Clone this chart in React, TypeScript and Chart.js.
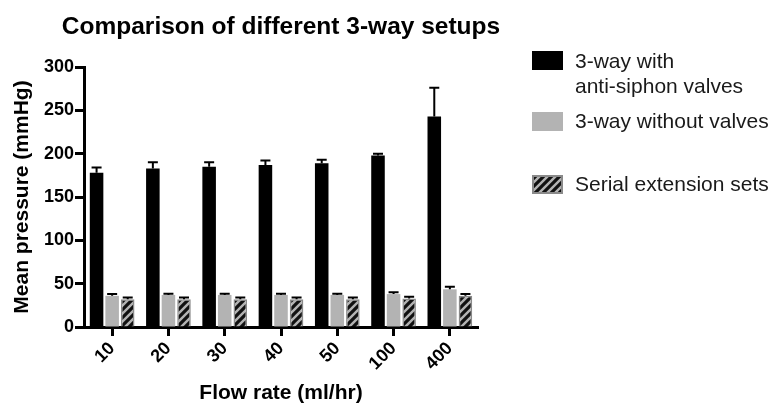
import React, { useEffect, useRef } from 'react';
import { Chart, registerables } from 'chart.js';

Chart.register(...registerables);

const chartTitle = 'Comparison of different 3-way setups';
const xTitle = 'Flow rate (ml/hr)';
const yTitle = 'Mean pressure (mmHg)';
const categories = ['10', '20', '30', '40', '50', '100', '400'];
const withValvesMean = [178, 183, 185, 187, 189, 198, 243];
const withValvesErr = [6, 7, 5, 5, 4, 2, 33];
const withoutValvesMean = [36, 37, 37, 37, 37, 38, 43.5];
const withoutValvesErr = [2, 1.5, 1.5, 1.5, 1.5, 2, 3];
const serialMean = [32, 32, 32, 32, 32, 33, 36];
const serialErr = [2, 2, 2, 2, 2, 2, 2];
const legendLabels = [['3-way with', 'anti-siphon valves'], ['3-way without valves'], ['Serial extension sets']];
const yMin = 0;
const yMax = 300;
const yStep = 50;

const FONT = '"Liberation Sans", Arial, Helvetica, sans-serif';

function makeHatch(): CanvasPattern | string {
  const c = document.createElement('canvas');
  c.width = 8;
  c.height = 8;
  const g = c.getContext('2d');
  if (!g) return '#b0b0b0';
  g.fillStyle = '#b3b3b3';
  g.fillRect(0, 0, 8, 8);
  g.strokeStyle = '#111';
  g.lineWidth = 3.2;
  g.beginPath();
  g.moveTo(-2, 10);
  g.lineTo(10, -2);
  g.moveTo(-2, 2);
  g.lineTo(2, -2);
  g.moveTo(6, 10);
  g.lineTo(10, 6);
  g.stroke();
  const p = g.createPattern(c, 'repeat');
  return p || '#b0b0b0';
}

export default function App() {
  const ref = useRef<HTMLCanvasElement>(null);

  useEffect(() => {
    document.body.style.margin = '0';
    const canvas = ref.current;
    if (!canvas) return;
    const hatch = makeHatch();
    const errs = [withValvesErr, withoutValvesErr, serialErr];

    const errorBars = {
      id: 'errorBars',
      afterDatasetsDraw(chart: any) {
        const ctx = chart.ctx;
        const yScale = chart.scales.y;
        ctx.save();
        ctx.strokeStyle = '#000';
        ctx.lineWidth = 2;
        chart.data.datasets.forEach((ds: any, di: number) => {
          const meta = chart.getDatasetMeta(di);
          meta.data.forEach((el: any, i: number) => {
            const v = ds.data[i];
            const top = yScale.getPixelForValue(v + errs[di][i]);
            const half = 5;
            ctx.beginPath();
            ctx.moveTo(el.x, el.y);
            ctx.lineTo(el.x, top);
            ctx.moveTo(el.x - half, top);
            ctx.lineTo(el.x + half, top);
            ctx.stroke();
          });
        });
        ctx.restore();
      },
    };

    const decor = {
      id: 'decor',
      afterDraw(chart: any) {
        const ctx = chart.ctx;
        const area = chart.chartArea;
        ctx.save();
        ctx.fillStyle = '#000';
        ctx.font = `bold 24.5px ${FONT}`;
        ctx.textAlign = 'center';
        ctx.textBaseline = 'middle';
        ctx.fillText(chartTitle, (area.left + area.right) / 2, 27);

        const boxX = 532;
        const boxW = 31;
        const boxH = 19;
        const boxTops = [51, 112, 175];
        const fills: any[] = ['#000', '#b3b3b3', hatch];
        const textCenters = [[62, 87], [122], [185]];
        ctx.textAlign = 'left';
        ctx.font = `21px ${FONT}`;
        legendLabels.forEach((lines, i) => {
          ctx.fillStyle = fills[i];
          ctx.fillRect(boxX, boxTops[i], boxW, boxH);
          if (i === 2) {
            ctx.strokeStyle = '#8a8a8a';
            ctx.lineWidth = 2;
            ctx.strokeRect(boxX + 1, boxTops[i] + 1, boxW - 2, boxH - 2);
          }
          ctx.fillStyle = '#1a1a1a';
          lines.forEach((t, j) => {
            ctx.fillText(t, 575, textCenters[i][j]);
          });
        });
        ctx.restore();
      },
    };

    const chart = new Chart(canvas, {
      type: 'bar',
      data: {
        labels: categories,
        datasets: [
          {
            label: legendLabels[0].join(' '),
            data: withValvesMean,
            backgroundColor: '#000',
            borderWidth: 0,
          },
          {
            label: legendLabels[1].join(' '),
            data: withoutValvesMean,
            backgroundColor: '#b3b3b3',
            borderWidth: 0,
          },
          {
            label: legendLabels[2].join(' '),
            data: serialMean,
            backgroundColor: hatch as any,
            borderColor: '#8a8a8a',
            borderWidth: 1.5,
          },
        ],
      },
      options: {
        animation: false,
        responsive: false,
        devicePixelRatio: 1,
        layout: { padding: { left: 0, right: 293, top: 67, bottom: 0 } },
        datasets: {
          bar: { categoryPercentage: 0.83, barPercentage: 0.87 },
        },
        plugins: {
          legend: { display: false },
          title: { display: false },
          tooltip: { enabled: false },
        },
        scales: {
          x: {
            offset: true,
            afterFit: (s: any) => {
              s.height = 80;
            },
            grid: {
              offset: false,
              display: true,
              drawOnChartArea: false,
              drawTicks: true,
              tickLength: 9,
              tickWidth: 3,
              tickColor: '#000',
            },
            border: { display: true, color: '#000', width: 3 },
            ticks: {
              color: '#000',
              font: { family: FONT, size: 18, weight: 'bold' },
              minRotation: 45,
              maxRotation: 45,
              padding: 2,
            },
            title: {
              display: true,
              text: xTitle,
              color: '#000',
              font: { family: FONT, size: 21, weight: 'bold' },
              padding: { top: 0, bottom: 1 },
            },
          },
          y: {
            min: yMin,
            max: yMax,
            afterFit: (s: any) => {
              s.width = 84;
            },
            grid: {
              display: true,
              drawOnChartArea: false,
              drawTicks: true,
              tickLength: 9,
              tickWidth: 3,
              tickColor: '#000',
            },
            border: { display: true, color: '#000', width: 3 },
            ticks: {
              stepSize: yStep,
              color: '#000',
              font: { family: FONT, size: 18, weight: 'bold' },
              padding: 1,
            },
            title: {
              display: true,
              text: yTitle,
              color: '#000',
              font: { family: FONT, size: 21, weight: 'bold' },
              padding: { top: 10, bottom: 0 },
            },
          },
        },
      },
      plugins: [errorBars, decor],
    } as any);

    return () => {
      chart.destroy();
    };
  }, []);

  return (
    <div style={{ width: 771, height: 407 }}>
      <canvas ref={ref} width={771} height={407} style={{ display: 'block' }} />
    </div>
  );
}
